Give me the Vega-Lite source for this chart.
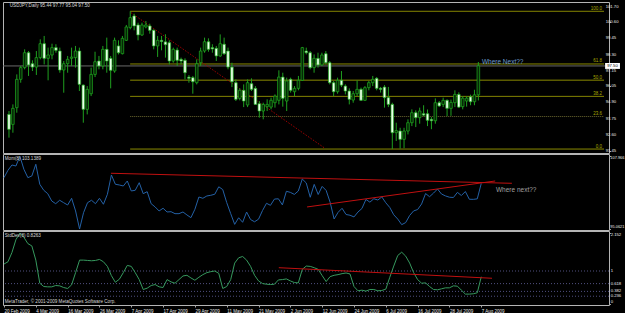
{
 "$schema": "https://vega.github.io/schema/vega-lite/v6.json",
 "background": "#000000",
 "padding": {"left": 1, "top": 1, "right": 0, "bottom": 0},
 "spacing": 1,
 "bounds": "flush",
 "config": {
  "font": "Liberation Sans",
  "view": {"stroke": "#b4b4b4", "strokeWidth": 1},
  "axis": {"grid": false, "domain": false, "labelFont": "Liberation Sans", "labelFontSize": 4.5, "labelColor": "#e8e8e8", "tickColor": "#a0a0a0", "labelOverlap": false, "labelBound": false, "labelFlush": false}
 },
 "datasets": {
  "candles": [
   {"i":1,"o":94.05,"h":94.29,"l":92.40,"c":92.99},{"i":2,"o":93.34,"h":94.76,"l":92.75,"c":94.48},{"i":3,"o":94.53,"h":96.89,"l":94.17,"c":96.54},{"i":4,"o":96.54,"h":97.49,"l":96.30,"c":97.37},{"i":5,"o":97.37,"h":98.67,"l":97.25,"c":98.43},
   {"i":6,"o":98.43,"h":98.55,"l":96.78,"c":97.56},{"i":7,"o":97.65,"h":97.89,"l":97.13,"c":97.41},{"i":8,"o":97.41,"h":98.55,"l":96.85,"c":98.08},{"i":9,"o":98.08,"h":99.38,"l":97.96,"c":99.07},{"i":10,"o":99.07,"h":99.62,"l":97.60,"c":98.03},
   {"i":11,"o":98.03,"h":98.79,"l":96.47,"c":98.27},{"i":12,"o":98.27,"h":99.07,"l":97.96,"c":98.79},{"i":13,"o":98.79,"h":99.03,"l":98.43,"c":98.60},{"i":14,"o":98.55,"h":98.79,"l":97.01,"c":97.20},{"i":15,"o":97.20,"h":97.84,"l":95.59,"c":97.65},
   {"i":16,"o":97.65,"h":98.20,"l":97.01,"c":97.96},{"i":17,"o":98.03,"h":98.79,"l":97.49,"c":98.12},{"i":18,"o":98.08,"h":98.91,"l":97.37,"c":98.55},{"i":19,"o":98.55,"h":98.79,"l":95.71,"c":96.18},{"i":20,"o":96.13,"h":96.18,"l":93.46,"c":94.41},
   {"i":21,"o":94.41,"h":96.06,"l":94.05,"c":95.83},{"i":22,"o":95.52,"h":97.37,"l":95.35,"c":96.89},{"i":23,"o":96.89,"h":98.50,"l":96.70,"c":97.79},{"i":24,"o":97.84,"h":98.20,"l":97.25,"c":97.49},{"i":25,"o":97.49,"h":98.91,"l":97.25,"c":98.67},
   {"i":26,"o":98.67,"h":99.50,"l":97.01,"c":97.84},{"i":27,"o":98.03,"h":98.20,"l":95.90,"c":97.18},{"i":28,"o":97.13,"h":99.50,"l":97.01,"c":99.31},{"i":29,"o":98.91,"h":99.31,"l":98.31,"c":98.43},{"i":30,"o":98.36,"h":99.62,"l":98.31,"c":99.45},
   {"i":31,"o":99.31,"h":100.40,"l":99.26,"c":100.26},{"i":32,"o":100.21,"h":101.37,"l":100.09,"c":100.92},{"i":33,"o":101.04,"h":101.20,"l":100.02,"c":100.33},{"i":34,"o":100.40,"h":100.56,"l":99.31,"c":99.69},{"i":35,"o":99.69,"h":100.56,"l":99.62,"c":100.40},
   {"i":36,"o":100.26,"h":100.68,"l":100.16,"c":100.40},{"i":37,"o":100.33,"h":100.49,"l":99.78,"c":100.02},{"i":38,"o":100.02,"h":100.09,"l":98.67,"c":98.91},{"i":39,"o":98.91,"h":99.62,"l":98.13,"c":99.31},{"i":40,"o":99.31,"h":99.62,"l":98.60,"c":99.22},
   {"i":41,"o":99.20,"h":99.74,"l":98.08,"c":99.00},{"i":42,"o":99.14,"h":99.31,"l":97.60,"c":97.84},{"i":43,"o":97.84,"h":98.79,"l":97.72,"c":98.67},{"i":44,"o":98.62,"h":98.79,"l":97.49,"c":97.89},{"i":45,"o":97.96,"h":98.08,"l":97.60,"c":97.84},
   {"i":46,"o":97.89,"h":98.03,"l":96.54,"c":97.01},{"i":47,"o":96.70,"h":96.84,"l":96.30,"c":96.61},{"i":48,"o":96.66,"h":96.78,"l":95.52,"c":96.37},{"i":49,"o":96.30,"h":97.96,"l":96.18,"c":97.65},{"i":50,"o":97.72,"h":98.79,"l":97.49,"c":98.55},
   {"i":51,"o":98.55,"h":99.50,"l":98.43,"c":99.21},{"i":52,"o":99.21,"h":99.45,"l":98.50,"c":98.67},{"i":53,"o":98.79,"h":99.03,"l":98.43,"c":98.70},{"i":54,"o":98.74,"h":98.91,"l":97.84,"c":98.20},{"i":55,"o":98.20,"h":99.73,"l":98.13,"c":99.07},
   {"i":56,"o":99.03,"h":99.50,"l":98.27,"c":98.36},{"i":57,"o":98.55,"h":98.79,"l":97.25,"c":97.41},{"i":58,"o":97.41,"h":97.72,"l":95.99,"c":96.37},{"i":59,"o":96.30,"h":96.54,"l":95.00,"c":95.12},{"i":60,"o":95.19,"h":95.90,"l":95.05,"c":95.76},
   {"i":61,"o":95.76,"h":96.18,"l":94.57,"c":95.00},{"i":62,"o":94.72,"h":96.54,"l":94.57,"c":96.30},{"i":63,"o":96.23,"h":96.61,"l":95.71,"c":95.83},{"i":64,"o":95.90,"h":96.06,"l":94.72,"c":94.76},{"i":65,"o":94.81,"h":95.00,"l":93.82,"c":94.29},
   {"i":66,"o":94.29,"h":94.88,"l":93.70,"c":94.76},{"i":67,"o":94.60,"h":95.12,"l":94.29,"c":94.76},{"i":68,"o":94.57,"h":95.24,"l":94.41,"c":95.05},{"i":69,"o":94.88,"h":95.47,"l":94.53,"c":95.35},{"i":70,"o":95.05,"h":97.18,"l":94.76,"c":96.70},
   {"i":71,"o":96.70,"h":97.01,"l":94.60,"c":95.19},{"i":72,"o":95.00,"h":96.66,"l":94.29,"c":96.42},{"i":73,"o":96.54,"h":96.66,"l":95.60,"c":95.76},{"i":74,"o":95.66,"h":96.06,"l":95.35,"c":95.90},{"i":75,"o":95.90,"h":96.78,"l":95.76,"c":96.47},
   {"i":76,"o":96.47,"h":98.84,"l":96.42,"c":98.79},{"i":77,"o":98.55,"h":98.79,"l":98.31,"c":98.43},{"i":78,"o":98.43,"h":98.55,"l":97.25,"c":97.37},{"i":79,"o":97.37,"h":98.31,"l":97.01,"c":98.03},{"i":80,"o":98.03,"h":98.43,"l":97.37,"c":97.56},
   {"i":81,"o":97.56,"h":98.43,"l":97.49,"c":98.27},{"i":82,"o":98.36,"h":98.55,"l":97.60,"c":97.72},{"i":83,"o":97.72,"h":97.84,"l":96.18,"c":96.30},{"i":84,"o":96.30,"h":96.42,"l":95.35,"c":95.66},{"i":85,"o":95.66,"h":96.66,"l":95.52,"c":96.47},
   {"i":86,"o":96.47,"h":97.13,"l":95.99,"c":96.13},{"i":87,"o":96.06,"h":96.18,"l":95.47,"c":95.71},{"i":88,"o":95.71,"h":95.90,"l":94.76,"c":95.12},{"i":89,"o":95.07,"h":95.71,"l":94.88,"c":95.52},{"i":90,"o":95.52,"h":96.47,"l":95.35,"c":95.83},
   {"i":91,"o":95.83,"h":95.95,"l":95.00,"c":95.05},{"i":92,"o":95.05,"h":96.06,"l":95.00,"c":95.95},{"i":93,"o":95.95,"h":96.42,"l":95.76,"c":96.30},{"i":94,"o":96.30,"h":96.78,"l":96.06,"c":96.54},{"i":95,"o":96.61,"h":96.70,"l":95.76,"c":95.90},
   {"i":96,"o":95.90,"h":96.00,"l":95.60,"c":95.83},{"i":97,"o":95.99,"h":96.13,"l":94.53,"c":95.24},{"i":98,"o":95.24,"h":96.00,"l":94.57,"c":94.76},{"i":99,"o":94.76,"h":94.88,"l":91.59,"c":92.75},{"i":100,"o":92.75,"h":93.46,"l":92.16,"c":92.90},
   {"i":101,"o":92.87,"h":93.10,"l":91.62,"c":92.28},{"i":102,"o":92.28,"h":93.10,"l":91.65,"c":92.87},{"i":103,"o":92.87,"h":93.70,"l":92.63,"c":93.46},{"i":104,"o":93.46,"h":94.41,"l":93.22,"c":94.17},{"i":105,"o":94.17,"h":94.34,"l":93.15,"c":93.82},
   {"i":106,"o":93.82,"h":94.53,"l":93.39,"c":94.29},{"i":107,"o":94.10,"h":94.70,"l":93.90,"c":94.00},{"i":108,"o":94.10,"h":94.40,"l":93.22,"c":93.63},{"i":109,"o":93.70,"h":93.86,"l":93.00,"c":93.60},{"i":110,"o":93.60,"h":95.19,"l":93.39,"c":94.88},
   {"i":111,"o":94.88,"h":95.00,"l":94.57,"c":94.65},{"i":112,"o":94.76,"h":95.24,"l":94.57,"c":95.05},{"i":113,"o":95.05,"h":95.12,"l":93.93,"c":94.48},{"i":114,"o":94.48,"h":95.10,"l":93.95,"c":94.90},{"i":115,"o":94.88,"h":95.76,"l":94.57,"c":95.47},
   {"i":116,"o":95.47,"h":95.62,"l":94.50,"c":94.57},{"i":117,"o":94.60,"h":95.35,"l":94.41,"c":95.20},{"i":118,"o":95.00,"h":95.35,"l":94.60,"c":95.20},{"i":119,"o":95.30,"h":95.45,"l":94.70,"c":94.95},{"i":120,"o":94.95,"h":95.80,"l":94.70,"c":95.44},
   {"i":121,"o":95.44,"h":97.77,"l":95.04,"c":97.50}
  ],
  "mom": [
   {"i":1,"m":104.17},{"i":2,"m":105.48},{"i":3,"m":106.42},{"i":4,"m":106.24},{"i":5,"m":107.97},{"i":6,"m":105.66},{"i":7,"m":104.17},{"i":8,"m":104.47},{"i":9,"m":106.55},{"i":10,"m":103.00},
   {"i":11,"m":101.93},{"i":12,"m":101.33},{"i":13,"m":100.03},{"i":14,"m":99.55},{"i":15,"m":100.16},{"i":16,"m":99.73},{"i":17,"m":99.32},{"i":18,"m":100.51},{"i":19,"m":98.26},{"i":20,"m":95.06},
   {"i":21,"m":97.95},{"i":22,"m":99.73},{"i":23,"m":100.16},{"i":24,"m":99.55},{"i":25,"m":100.51},{"i":26,"m":99.45},{"i":27,"m":101.22},{"i":28,"m":104.65},{"i":29,"m":103.00},{"i":30,"m":102.87},
   {"i":31,"m":102.69},{"i":32,"m":103.58},{"i":33,"m":101.81},{"i":34,"m":101.93},{"i":35,"m":103.28},{"i":36,"m":101.33},{"i":37,"m":101.68},{"i":38,"m":99.55},{"i":39,"m":98.97},{"i":40,"m":98.26},
   {"i":41,"m":98.74},{"i":42,"m":98.08},{"i":43,"m":98.13},{"i":44,"m":97.78},{"i":45,"m":97.78},{"i":46,"m":98.08},{"i":47,"m":97.55},{"i":48,"m":97.07},{"i":49,"m":98.56},{"i":50,"m":100.74},
   {"i":51,"m":100.51},{"i":52,"m":100.92},{"i":53,"m":101.04},{"i":54,"m":101.23},{"i":55,"m":102.55},{"i":56,"m":102.06},{"i":57,"m":99.75},{"i":58,"m":97.79},{"i":59,"m":95.88},{"i":60,"m":97.05},
   {"i":61,"m":96.25},{"i":62,"m":98.07},{"i":63,"m":96.73},{"i":64,"m":96.34},{"i":65,"m":96.80},{"i":66,"m":98.33},{"i":67,"m":99.62},{"i":68,"m":99.26},{"i":69,"m":100.37},{"i":70,"m":100.42},
   {"i":71,"m":99.33},{"i":72,"m":101.75},{"i":73,"m":101.56},{"i":74,"m":101.20},{"i":75,"m":101.80},{"i":76,"m":103.93},{"i":77,"m":103.23},{"i":78,"m":100.69},{"i":79,"m":102.98},{"i":80,"m":101.18},
   {"i":81,"m":102.62},{"i":82,"m":101.90},{"i":83,"m":99.82},{"i":84,"m":96.83},{"i":85,"m":98.01},{"i":86,"m":98.73},{"i":87,"m":97.63},{"i":88,"m":97.50},{"i":89,"m":97.20},{"i":90,"m":98.07},
   {"i":91,"m":98.70},{"i":92,"m":100.30},{"i":93,"m":99.82},{"i":94,"m":100.43},{"i":95,"m":100.20},{"i":96,"m":100.75},{"i":97,"m":99.71},{"i":98,"m":98.88},{"i":99,"m":97.58},{"i":100,"m":96.82},
   {"i":101,"m":95.83},{"i":102,"m":96.20},{"i":103,"m":97.46},{"i":104,"m":98.27},{"i":105,"m":98.51},{"i":106,"m":99.50},{"i":107,"m":101.35},{"i":108,"m":100.79},{"i":109,"m":101.43},{"i":110,"m":102.16},
   {"i":111,"m":101.27},{"i":112,"m":100.93},{"i":113,"m":100.70},{"i":114,"m":100.65},{"i":115,"m":101.56},{"i":116,"m":101.00},{"i":117,"m":101.71},{"i":118,"m":100.34},{"i":119,"m":100.32},{"i":120,"m":100.41},
   {"i":121,"m":103.14}
  ],
  "sd": [
   {"i":1,"s":1.21},{"i":2,"s":1.28},{"i":3,"s":1.56},{"i":4,"s":1.95},{"i":5,"s":2.15},{"i":6,"s":2.02},{"i":7,"s":1.83},{"i":8,"s":1.76},{"i":9,"s":1.33},{"i":10,"s":0.63},
   {"i":11,"s":0.53},{"i":12,"s":0.52},{"i":13,"s":0.52},{"i":14,"s":0.56},{"i":15,"s":0.55},{"i":16,"s":0.50},{"i":17,"s":0.47},{"i":18,"s":0.58},{"i":19,"s":0.95},{"i":20,"s":1.33},
   {"i":21,"s":1.33},{"i":22,"s":1.32},{"i":23,"s":1.31},{"i":24,"s":1.32},{"i":25,"s":1.35},{"i":26,"s":1.28},{"i":27,"s":1.14},{"i":28,"s":0.86},{"i":29,"s":0.66},{"i":30,"s":0.75},
   {"i":31,"s":0.95},{"i":32,"s":1.17},{"i":33,"s":1.14},{"i":34,"s":0.95},{"i":35,"s":0.74},{"i":36,"s":0.44},{"i":37,"s":0.48},{"i":38,"s":0.56},{"i":39,"s":0.59},{"i":40,"s":0.52},
   {"i":41,"s":0.50},{"i":42,"s":0.74},{"i":43,"s":0.67},{"i":44,"s":0.63},{"i":45,"s":0.74},{"i":46,"s":0.85},{"i":47,"s":0.87},{"i":48,"s":0.79},{"i":49,"s":0.72},{"i":50,"s":0.81},
   {"i":51,"s":0.89},{"i":52,"s":0.95},{"i":53,"s":0.98},{"i":54,"s":1.00},{"i":55,"s":0.93},{"i":56,"s":0.47},{"i":57,"s":0.53},{"i":58,"s":0.74},{"i":59,"s":1.24},{"i":60,"s":1.40},
   {"i":61,"s":1.44},{"i":62,"s":1.33},{"i":63,"s":1.14},{"i":64,"s":0.87},{"i":65,"s":0.70},{"i":66,"s":0.62},{"i":67,"s":0.60},{"i":68,"s":0.59},{"i":69,"s":0.60},{"i":70,"s":0.73},
   {"i":71,"s":0.74},{"i":72,"s":0.76},{"i":73,"s":0.70},{"i":74,"s":0.65},{"i":75,"s":0.64},{"i":76,"s":1.05},{"i":77,"s":1.15},{"i":78,"s":1.14},{"i":79,"s":1.10},{"i":80,"s":1.05},
   {"i":81,"s":0.86},{"i":82,"s":0.68},{"i":83,"s":0.83},{"i":84,"s":0.87},{"i":85,"s":0.89},{"i":86,"s":0.92},{"i":87,"s":0.94},{"i":88,"s":0.91},{"i":89,"s":0.53},{"i":90,"s":0.40},
   {"i":91,"s":0.42},{"i":92,"s":0.39},{"i":93,"s":0.44},{"i":94,"s":0.44},{"i":95,"s":0.40},{"i":96,"s":0.41},{"i":97,"s":0.45},{"i":98,"s":0.81},{"i":99,"s":1.15},{"i":100,"s":1.47},
   {"i":101,"s":1.57},{"i":102,"s":1.45},{"i":103,"s":1.24},{"i":104,"s":0.95},{"i":105,"s":0.74},{"i":106,"s":0.63},{"i":107,"s":0.64},{"i":108,"s":0.53},{"i":109,"s":0.44},{"i":110,"s":0.43},
   {"i":111,"s":0.46},{"i":112,"s":0.49},{"i":113,"s":0.49},{"i":114,"s":0.55},{"i":115,"s":0.54},{"i":116,"s":0.42},{"i":117,"s":0.30},{"i":118,"s":0.30},{"i":119,"s":0.31},{"i":120,"s":0.34},
   {"i":121,"s":0.8263}
  ],
  "fib": [
   {"level":"100.0","price":101.37},{"level":"61.8","price":97.63},{"level":"50.0","price":96.48},{"level":"38.2","price":95.33},{"level":"23.6","price":93.90},{"level":"0.0","price":91.59}
  ],
  "priceTicks": [
   {"v":101.70,"t":"101.70"},{"v":100.60,"t":"100.60"},{"v":99.45,"t":"99.45"},{"v":98.30,"t":"98.30"},{"v":97.15,"t":"97.15"},{"v":96.05,"t":"96.05"},{"v":94.90,"t":"94.90"},{"v":93.75,"t":"93.75"},{"v":92.60,"t":"92.60"},{"v":91.45,"t":"91.45"}
  ],
  "trendMain": [{"i":32.2,"p":101.27},{"i":81.7,"p":91.66}],
  "trendMom": [{"id":"a","i":27.9,"v":104.95},{"id":"a","i":128.7,"v":103.17},{"id":"b","i":77.2,"v":98.97},{"id":"b","i":124.5,"v":103.58}],
  "trendSd": [{"i":70.1,"v":1.10},{"i":123.7,"v":0.78}],
  "sdLevels": [{"lv":1,"t":"1"},{"lv":0.618,"t":"0.618"},{"lv":0.382,"t":"0.382"},{"lv":0.236,"t":"0.236"}]
 },
 "vconcat": [
  {
   "width": 606,
   "height": 151,
   "layer": [
    {
     "data": {"name": "fib"},
     "mark": {"type": "rule", "strokeWidth": 1},
     "encoding": {
      "x": {"datum": 32, "type": "quantitative", "scale": {"domain": [0.749, 153.12], "nice": false, "zero": false}, "axis": null},
      "x2": {"datum": 153.12},
      "y": {"field": "price", "type": "quantitative", "scale": {"domain": [91.31, 102.03], "nice": false, "zero": false}, "axis": {"orient": "right", "title": null, "values": [101.70, 100.60, 99.45, 98.30, 97.15, 96.05, 94.90, 93.75, 92.60, 91.45], "labels": false, "tickSize": 1.5}},
      "color": {"condition": {"test": "datum.level == '23.6'", "value": "#6e6a30"}, "value": "#9a9a00"},
      "strokeDash": {"condition": {"test": "datum.level == '23.6'", "value": [1, 1]}, "value": [1, 0]}
     }
    },
    {
     "data": {"name": "fib"},
     "mark": {"type": "text", "align": "right", "baseline": "bottom", "dy": -0.5, "fontSize": 4.5, "color": "#a8a800"},
     "encoding": {
      "x": {"datum": 152.6, "type": "quantitative"},
      "y": {"field": "price", "type": "quantitative"},
      "text": {"field": "level"}
     }
    },
    {
     "data": {"name": "priceTicks"},
     "mark": {"type": "text", "align": "left", "baseline": "middle", "fontSize": 4.2, "color": "#ececec"},
     "encoding": {
      "x": {"datum": 153.55, "type": "quantitative"},
      "y": {"field": "v", "type": "quantitative"},
      "text": {"field": "t"}
     }
    },
    {
     "data": {"values": [{"note": "bid"}]},
     "mark": {"type": "rule", "color": "#6a6a6a", "strokeWidth": 1},
     "encoding": {"y": {"datum": 97.49, "type": "quantitative"}}
    },
    {
     "data": {"name": "trendMain"},
     "mark": {"type": "line", "color": "#a00000", "strokeWidth": 1, "strokeDash": [1.5, 1.5]},
     "encoding": {"x": {"field": "i", "type": "quantitative"}, "y": {"field": "p", "type": "quantitative"}}
    },
    {
     "data": {"name": "candles"},
     "mark": {"type": "rule", "color": "#1f9f1f", "strokeWidth": 1},
     "encoding": {"x": {"field": "i", "type": "quantitative"}, "y": {"field": "l", "type": "quantitative"}, "y2": {"field": "h"}}
    },
    {
     "data": {"name": "candles"},
     "mark": {"type": "bar", "width": 2.6, "stroke": "#1fae1f", "strokeWidth": 0.7},
     "encoding": {
      "x": {"field": "i", "type": "quantitative"},
      "y": {"field": "o", "type": "quantitative"},
      "y2": {"field": "c"},
      "fill": {"condition": {"test": "datum.c < datum.o", "value": "#eaffea"}, "value": "#062606"}
     }
    },
    {
     "data": {"values": [{"note": "Where Next??"}]},
     "mark": {"type": "text", "align": "left", "baseline": "middle", "fontSize": 6.5, "color": "#6e9ccc"},
     "encoding": {"x": {"datum": 121.9, "type": "quantitative"}, "y": {"datum": 97.79, "type": "quantitative"}, "text": {"field": "note"}}
    },
    {
     "data": {"values": [{"note": "USDJPY,Daily  95.44 97.77 95.04 97.50"}]},
     "mark": {"type": "text", "align": "left", "baseline": "middle", "fontSize": 4.6, "color": "#d8d8d8"},
     "encoding": {"x": {"datum": 1.2, "type": "quantitative"}, "y": {"datum": 101.75, "type": "quantitative"}, "text": {"field": "note"}}
    },
    {
     "data": {"values": [{"note": "97.50"}]},
     "mark": {"type": "rect", "color": "#ffffff"},
     "encoding": {"x": {"datum": 153.4, "type": "quantitative"}, "x2": {"datum": 157.2}, "y": {"datum": 97.70, "type": "quantitative"}, "y2": {"datum": 97.28}}
    },
    {
     "data": {"values": [{"note": "97.50"}]},
     "mark": {"type": "text", "align": "center", "baseline": "middle", "fontSize": 4.2, "color": "#000000"},
     "encoding": {"x": {"datum": 155.3, "type": "quantitative"}, "y": {"datum": 97.49, "type": "quantitative"}, "text": {"field": "note"}}
    }
   ]
  },
  {
   "width": 606,
   "height": 76,
   "layer": [
    {
     "data": {"name": "mom"},
     "mark": {"type": "line", "color": "#2461a6", "strokeWidth": 1},
     "encoding": {
      "x": {"field": "i", "type": "quantitative", "scale": {"domain": [0.749, 153.12], "nice": false, "zero": false}, "axis": null},
      "y": {"field": "m", "type": "quantitative", "scale": {"domain": [94.88, 108.37], "nice": false, "zero": false}, "axis": {"orient": "right", "title": null, "values": [107.966, 95.0621], "labels": false, "tickSize": 1.5}}
     }
    },
    {
     "data": {"values": [{"t": "107.966", "v": 107.966}]},
     "mark": {"type": "text", "align": "left", "baseline": "top", "fontSize": 3.9, "color": "#ececec"},
     "encoding": {"x": {"datum": 153.45, "type": "quantitative"}, "y": {"field": "v", "type": "quantitative"}, "text": {"field": "t"}}
    },
    {
     "data": {"values": [{"t": "95.0621", "v": 95.0621}]},
     "mark": {"type": "text", "align": "left", "baseline": "bottom", "fontSize": 3.9, "color": "#ececec"},
     "encoding": {"x": {"datum": 153.45, "type": "quantitative"}, "y": {"field": "v", "type": "quantitative"}, "text": {"field": "t"}}
    },
    {
     "data": {"name": "trendMom"},
     "mark": {"type": "line", "color": "#c01010", "strokeWidth": 1},
     "encoding": {"x": {"field": "i", "type": "quantitative"}, "y": {"field": "v", "type": "quantitative"}, "detail": {"field": "id"}}
    },
    {
     "data": {"values": [{"note": "Mom(8) 103.1389"}]},
     "mark": {"type": "text", "align": "left", "baseline": "middle", "fontSize": 4.6, "color": "#d8d8d8"},
     "encoding": {"x": {"datum": 1.2, "type": "quantitative"}, "y": {"datum": 107.4, "type": "quantitative"}, "text": {"field": "note"}}
    },
    {
     "data": {"values": [{"note": "Where next??"}]},
     "mark": {"type": "text", "align": "left", "baseline": "middle", "fontSize": 6.5, "color": "#a0a0a0"},
     "encoding": {"x": {"datum": 124.7, "type": "quantitative"}, "y": {"datum": 101.98, "type": "quantitative"}, "text": {"field": "note"}}
    }
   ]
  },
  {
   "width": 606,
   "height": 74,
   "layer": [
    {
     "data": {"name": "sdLevels"},
     "mark": {"type": "rule", "color": "#505080", "strokeWidth": 1, "strokeDash": [1, 2]},
     "encoding": {
      "y": {"field": "lv", "type": "quantitative", "scale": {"domain": [-0.03, 2.212], "nice": false, "zero": false}, "axis": {"orient": "right", "title": null, "values": [2.152, 1, 0.618, 0.382, 0.236, 0], "labels": false, "tickSize": 1.5}}
     }
    },
    {
     "data": {"name": "sdLevels"},
     "mark": {"type": "text", "align": "left", "baseline": "middle", "fontSize": 4.2, "color": "#ececec"},
     "encoding": {"x": {"datum": 153.55, "type": "quantitative", "scale": {"domain": [0.749, 153.12], "nice": false, "zero": false}}, "y": {"field": "lv", "type": "quantitative"}, "text": {"field": "t"}}
    },
    {
     "data": {"values": [{"t": "2.152", "v": 2.152}]},
     "mark": {"type": "text", "align": "left", "baseline": "top", "fontSize": 4.2, "color": "#ececec"},
     "encoding": {"x": {"datum": 153.55, "type": "quantitative"}, "y": {"field": "v", "type": "quantitative"}, "text": {"field": "t"}}
    },
    {
     "data": {"values": [{"t": "0", "v": 0}]},
     "mark": {"type": "text", "align": "left", "baseline": "bottom", "fontSize": 4.2, "color": "#ececec"},
     "encoding": {"x": {"datum": 153.55, "type": "quantitative"}, "y": {"field": "v", "type": "quantitative"}, "text": {"field": "t"}}
    },
    {
     "data": {"name": "sd"},
     "mark": {"type": "line", "color": "#36995e", "strokeWidth": 1},
     "encoding": {
      "x": {"field": "i", "type": "quantitative", "scale": {"domain": [0.749, 153.12], "nice": false, "zero": false},
       "axis": {"title": null, "values": [1, 9, 17, 25, 33, 41, 49, 57, 65, 73, 81, 89, 97, 105, 113, 121],
        "labelExpr": "['20 Feb 2009','4 Mar 2009','16 Mar 2009','26 Mar 2009','7 Apr 2009','17 Apr 2009','29 Apr 2009','11 May 2009','21 May 2009','2 Jun 2009','12 Jun 2009','24 Jun 2009','6 Jul 2009','16 Jul 2009','28 Jul 2009','7 Aug 2009'][floor((datum.value - 1) / 8)]",
        "labelAlign": "left", "labelFontSize": 4.5, "tickSize": 2, "labelPadding": 1, "labelBaseline": "top", "labelOverlap": false}},
      "y": {"field": "s", "type": "quantitative"}
     }
    },
    {
     "data": {"name": "trendSd"},
     "mark": {"type": "line", "color": "#c01010", "strokeWidth": 1},
     "encoding": {"x": {"field": "i", "type": "quantitative"}, "y": {"field": "v", "type": "quantitative"}}
    },
    {
     "data": {"values": [{"note": "StdDev(8) 0.8263"}]},
     "mark": {"type": "text", "align": "left", "baseline": "middle", "fontSize": 4.6, "color": "#d8d8d8"},
     "encoding": {"x": {"datum": 1.2, "type": "quantitative"}, "y": {"datum": 2.06, "type": "quantitative"}, "text": {"field": "note"}}
    },
    {
     "data": {"values": [{"note": "MetaTrader, © 2001-2009 MetaQuotes Software Corp."}]},
     "mark": {"type": "text", "align": "left", "baseline": "middle", "fontSize": 4.6, "color": "#d8d8d8"},
     "encoding": {"x": {"datum": 1.2, "type": "quantitative"}, "y": {"datum": 0.07, "type": "quantitative"}, "text": {"field": "note"}}
    }
   ]
  }
 ]
}
